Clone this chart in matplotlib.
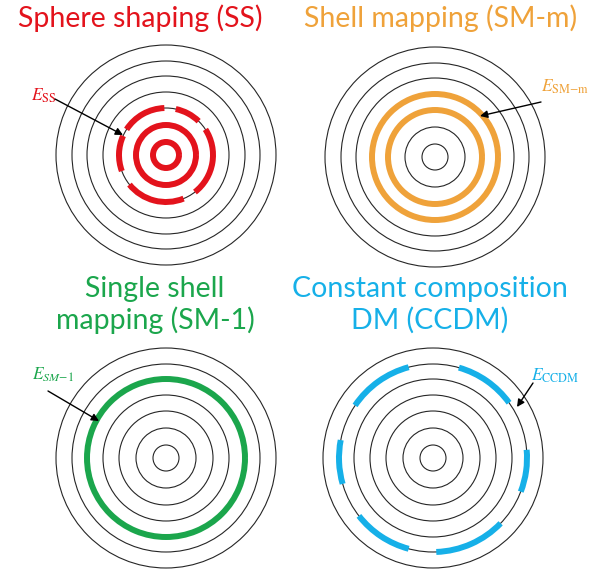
import matplotlib
matplotlib.use('Agg')
import matplotlib.pyplot as plt
from matplotlib.patches import Circle, Arc

plt.rcParams['mathtext.fontset'] = 'stix'

W, H = 605, 571

# concentric shell radii (px), shared by all four panels
radii = [110, 94, 79, 63, 47, 30, 13]

# panel layout: name -> (centre x, centre y measured from top)
centres = {
    'SS': (166, 155),
    'SMm': (435, 157),
    'SM1': (166, 458),
    'CCDM': (433, 458),
}

colors = {
    'SS': '#E3131C',
    'SMm': '#EFA23A',
    'SM1': '#1BA64C',
    'CCDM': '#16B0E8',
}

titles = {
    'SS': 'Sphere shaping (SS)',
    'SMm': 'Shell mapping (SM-m)',
    'SM1': 'Single shell\nmapping (SM-1)',
    'CCDM': 'Constant composition\nDM (CCDM)',
}
title_pos = {
    'SS': (140, 18),
    'SMm': (441, 18),
    'SM1': (155, 305),
    'CCDM': (430, 305),
}

# highlighted shells: panel -> list of (shell index, [(theta1, theta2), ...]) in degrees
full = [(0, 360)]
shells = {
    'SS': [(4, [(92, 147), (46, 78), (-52, 33), (-141, -68), (156, 200)]),
           (5, full), (6, full)],
    'SMm': [(3, full), (4, full)],
    'SM1': [(2, full)],
    'CCDM': [(1, [(105, 146), (36, 74), (-21, 5), (-88, -44),
                  (-142, -105), (169, 196)])],
}

labels = {
    'SS': r'$E_{\mathrm{SS}}$',
    'SMm': r'$E_{\mathrm{SM{-}m}}$',
    'SM1': r'$E_{SM{-}1}$',
    'CCDM': r'$E_{\mathrm{CCDM}}$',
}
label_pos = {'SS': (44, 96), 'SMm': (565, 87), 'SM1': (53, 375), 'CCDM': (555, 376)}
arrow_from = {'SS': (55, 99), 'SMm': (541, 102), 'SM1': (48, 391), 'CCDM': (533, 383)}
arrow_to = {'SS': (123, 135), 'SMm': (480, 116), 'SM1': (99, 421), 'CCDM': (517, 407)}

fig = plt.figure(figsize=(W / 100, H / 100), dpi=100)
ax = fig.add_axes([0, 0, 1, 1])
ax.set_xlim(0, W)
ax.set_ylim(0, H)
ax.set_aspect('equal')
ax.axis('off')


def flip(p):
    return (p[0], H - p[1])


for key, (cx, cy) in centres.items():
    c = (cx, H - cy)
    for r in radii:
        ax.add_patch(Circle(c, r, fill=False, ec='#262626', lw=0.8))
    for idx, spans in shells[key]:
        d = 2 * radii[idx]
        for t1, t2 in spans:
            ax.add_patch(Arc(c, d, d, theta1=t1, theta2=t2,
                             ec=colors[key], lw=4.3, capstyle='butt'))

    tx, ty = flip(title_pos[key])
    ax.text(tx, ty, titles[key], color=colors[key], fontsize=20.5,
            family='Lato', ha='center', va='center', linespacing=1.2)

    lx, ly = flip(label_pos[key])
    ax.text(lx, ly, labels[key], color=colors[key], fontsize=12.5,
            ha='center', va='center')
    ax.annotate('', xy=flip(arrow_to[key]), xytext=flip(arrow_from[key]),
                arrowprops=dict(arrowstyle='-|>', color='black', lw=1.0,
                                mutation_scale=11, shrinkA=0, shrinkB=0))

fig.savefig('out.png', dpi=100)
